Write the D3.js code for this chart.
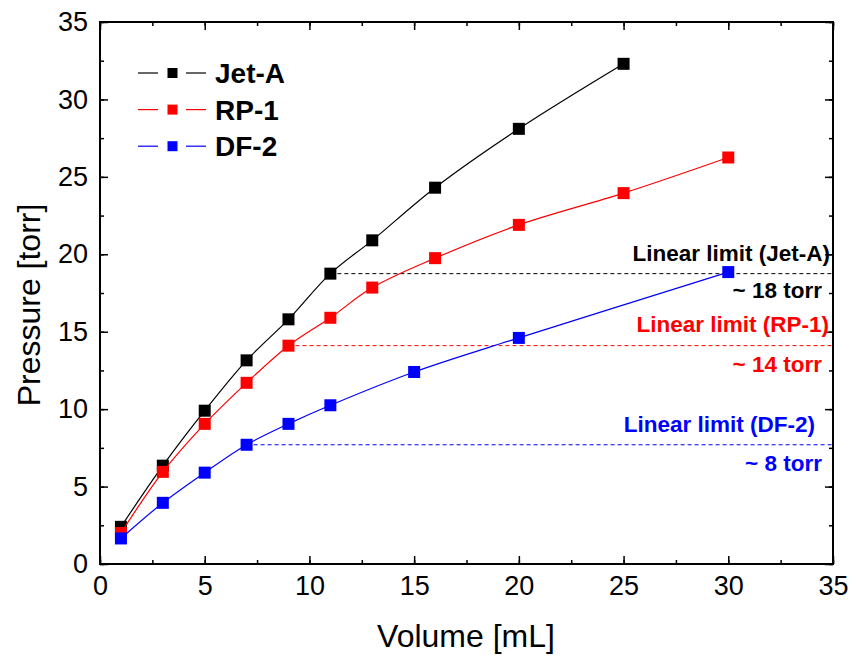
<!DOCTYPE html>
<html>
<head>
<meta charset="utf-8">
<script src="https://cdn.jsdelivr.net/npm/d3@7"></script>
<style>
  html, body { margin: 0; padding: 0; background: #fff; }
  svg { display: block; font-family: "Liberation Sans", Arial, sans-serif; }
</style>
</head>
<body>
<svg id="chart" width="852" height="657"></svg>
<script>
// Vapor pressure vs. injected volume for three fuels
const jetA_volume = [1, 3, 5, 7, 9, 11, 13, 16, 20, 25];
const jetA_pressure = [2.4, 6.35, 9.9, 13.15, 15.8, 18.75, 20.9, 24.3, 28.1, 32.3];

const rp1_volume = [1, 3, 5, 7, 9, 11, 13, 16, 20, 25, 30];
const rp1_pressure = [2.0, 5.95, 9.05, 11.7, 14.1, 15.9, 17.85, 19.75, 21.9, 23.95, 26.25];

const df2_volume = [1, 3, 5, 7, 9, 11, 15, 20, 30];
const df2_pressure = [1.65, 3.95, 5.9, 7.7, 9.05, 10.25, 12.4, 14.6, 18.85];

// Linear-limit thresholds: start volume and pressure level
const limitNames = ["Jet-A", "RP-1", "DF-2"];
const limitStart = [11, 9, 7];
const limitPressure = [18.75, 14.1, 7.7];
const limitText = ["Linear limit (Jet-A)", "Linear limit (RP-1)", "Linear limit (DF-2)"];
const limitApprox = ["~ 18 torr", "~ 14 torr", "~ 8 torr"];

const xTicks = [0, 5, 10, 15, 20, 25, 30, 35];
const yTicks = [0, 5, 10, 15, 20, 25, 30, 35];

const colors = { "Jet-A": "#000000", "RP-1": "#ff0000", "DF-2": "#0000ff" };

const series = [
  { name: "Jet-A", x: jetA_volume, y: jetA_pressure },
  { name: "RP-1", x: rp1_volume, y: rp1_pressure },
  { name: "DF-2", x: df2_volume, y: df2_pressure }
];

const svg = d3.select("#chart");
const L = 100, R = 833, T = 22, B = 564;

const x = d3.scaleLinear().domain([0, 35]).range([L, R]);
const y = d3.scaleLinear().domain([0, 35]).range([B, T]);

// Axes with inward ticks on all four sides
const minorX = d3.range(0, 35.01, 2.5);
const minorY = d3.range(0, 35.01, 2.5);

function frameAxis(gen, tr, major, minor, showLabels, pad) {
  const gMinor = svg.append("g").attr("transform", tr)
    .call(gen.tickValues(minor).tickSize(-4).tickFormat(""));
  gMinor.select(".domain").remove();
  gMinor.selectAll("line").attr("stroke", "#000").attr("stroke-width", 1.5);
  const g = svg.append("g").attr("transform", tr)
    .call(gen.tickValues(major).tickSize(-8).tickPadding(pad)
      .tickFormat(showLabels ? d3.format("d") : ""));
  g.select(".domain").remove();
  g.selectAll("line").attr("stroke", "#000").attr("stroke-width", 1.5);
  g.selectAll("text").attr("font-size", 27).attr("fill", "#000")
    .attr("font-family", "'Liberation Sans', Arial, sans-serif");
  return g;
}

frameAxis(d3.axisBottom(x), `translate(0,${B})`, xTicks, minorX, true, 12);
frameAxis(d3.axisTop(x), `translate(0,${T})`, xTicks, minorX, false, 10);
frameAxis(d3.axisLeft(y), `translate(${L},0)`, yTicks, minorY, true, 12);
frameAxis(d3.axisRight(y), `translate(${R},0)`, yTicks, minorY, false, 10);

svg.append("rect").attr("x", L).attr("y", T).attr("width", R - L).attr("height", B - T)
  .attr("fill", "none").attr("stroke", "#000").attr("stroke-width", 2);

// Axis titles
svg.append("text").attr("x", 466).attr("y", 647).attr("text-anchor", "middle")
  .attr("font-size", 32).text("Volume [mL]");
svg.append("text").attr("transform", `translate(40,305) rotate(-90)`)
  .attr("text-anchor", "middle").attr("font-size", 32).text("Pressure [torr]");

// Dashed linear-limit lines
limitNames.forEach((n, i) => {
  svg.append("line")
    .attr("x1", x(limitStart[i])).attr("x2", x(35))
    .attr("y1", y(limitPressure[i])).attr("y2", y(limitPressure[i]))
    .attr("stroke", colors[n]).attr("stroke-width", 1)
    .attr("stroke-dasharray", "4,3");
});

// Annotation texts
const annot = [
  { t: limitText[0], c: colors["Jet-A"], x: 830, y: 261 },
  { t: limitApprox[0], c: colors["Jet-A"], x: 822, y: 298 },
  { t: limitText[1], c: colors["RP-1"], x: 829, y: 332 },
  { t: limitApprox[1], c: colors["RP-1"], x: 822, y: 372 },
  { t: limitText[2], c: colors["DF-2"], x: 815, y: 432 },
  { t: limitApprox[2], c: colors["DF-2"], x: 822, y: 471 }
];
svg.selectAll("text.annot").data(annot).join("text").attr("class", "annot")
  .attr("x", d => d.x).attr("y", d => d.y).attr("text-anchor", "end")
  .attr("font-size", 22.5).attr("font-weight", "bold").attr("fill", d => d.c)
  .text(d => d.t);

// Data lines and markers
const line = d3.line().x(d => x(d[0])).y(d => y(d[1])).curve(d3.curveCatmullRom.alpha(0.5));
const ms = 12;
series.forEach(s => {
  const pts = s.x.map((v, i) => [v, s.y[i]]);
  svg.append("path").datum(pts).attr("d", line)
    .attr("fill", "none").attr("stroke", colors[s.name]).attr("stroke-width", 1.2);
  svg.append("g").selectAll("rect").data(pts).join("rect")
    .attr("x", d => x(d[0]) - ms / 2).attr("y", d => y(d[1]) - ms / 2)
    .attr("width", ms).attr("height", ms).attr("fill", colors[s.name]);
});

// Legend
const legend = svg.append("g");
series.forEach((s, i) => {
  const cy = 73 + i * 36.6;
  const g = legend.append("g");
  g.append("line").attr("x1", 138).attr("x2", 158).attr("y1", cy).attr("y2", cy)
    .attr("stroke", colors[s.name]).attr("stroke-width", 1.2);
  g.append("line").attr("x1", 186).attr("x2", 206).attr("y1", cy).attr("y2", cy)
    .attr("stroke", colors[s.name]).attr("stroke-width", 1.2);
  g.append("rect").attr("x", 172.5 - 5).attr("y", cy - 5).attr("width", 10).attr("height", 10)
    .attr("fill", colors[s.name]);
  g.append("text").attr("x", 215).attr("y", cy + 10).attr("font-size", 28)
    .attr("font-weight", "bold").text(s.name);
});
</script>
</body>
</html>
